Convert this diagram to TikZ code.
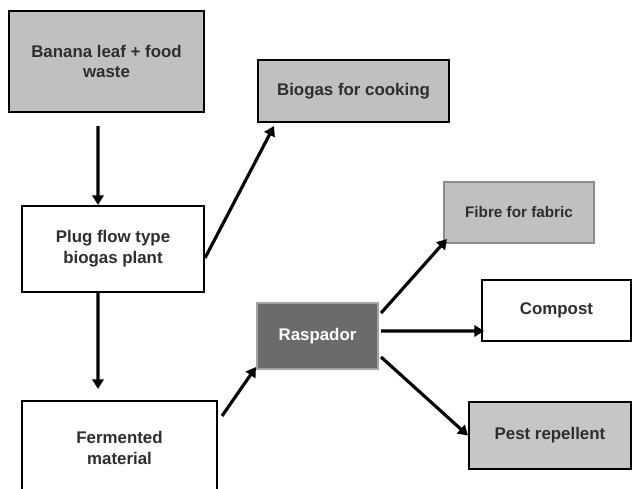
\documentclass[tikz,border=0pt]{standalone}
\usepackage{fontspec}
\setmainfont{Liberation Sans}
\usetikzlibrary{arrows.meta}

\definecolor{boxgrey}{HTML}{C0C0C0}
\definecolor{pestgrey}{HTML}{C6C6C6}
\definecolor{rimgrey}{HTML}{8C8C8C}
\definecolor{darkfill}{HTML}{6B6B6B}
\definecolor{inkgrey}{HTML}{2E2E2E}

\tikzset{
  box/.style={draw=black, line width=1.2pt, fill=white, align=center,
    text=inkgrey, inner sep=0pt, font=\fontsize{9.6}{11.8}\selectfont\bfseries},
  greybox/.style={box, fill=boxgrey},
  flow/.style={line width=1.8pt, -{Triangle[length=5.5pt,width=6.5pt]}}
}

\begin{document}
\begin{tikzpicture}[x=0.02cm, y=-0.02cm]
\useasboundingbox (0,0) rectangle (632,488);
% left column
\node[greybox, minimum width=3.9cm, minimum height=2.02cm] (banana) at (106.5,61.5) {Banana leaf + food\\waste};
\node[box, minimum width=3.64cm, minimum height=1.72cm] (plug) at (113,249) {Plug flow type\\biogas plant};
\node[box, minimum width=3.9cm, minimum height=1.88cm] (ferm) at (119.5,448) {Fermented\\material};
% outputs
\node[greybox, minimum width=3.82cm, minimum height=1.24cm] (biogas) at (353.5,91) {Biogas for cooking};
\node[box, fill=darkfill, draw=rimgrey!80, text=white, minimum width=2.42cm, minimum height=1.32cm] (rasp) at (317.5,336) {Raspador};
\node[greybox, draw=rimgrey, font=\fontsize{8.7}{10.5}\selectfont\bfseries, minimum width=3cm, minimum height=1.22cm] (fibre) at (519,212.5) {Fibre for fabric};
\node[box, minimum width=2.98cm, minimum height=1.22cm] (compost) at (556.5,310.5) {Compost};
\node[box, fill=pestgrey, minimum width=3.24cm, minimum height=1.34cm] (pest) at (550,435.5) {Pest repellent};

\draw[flow] ([xshift=-0.17cm,yshift=-0.26cm]banana.south) -- ([xshift=-0.3cm]plug.north);
\draw[flow] ([yshift=-0.18cm]plug.east) -- ([xshift=0.34cm,yshift=-0.06cm]biogas.south west);
\draw[flow] ([xshift=-0.3cm]plug.south) -- ([xshift=-0.43cm,yshift=0.22cm]ferm.north);
\draw[flow] ([xshift=0.08cm,yshift=-0.32cm]ferm.north east) -- ([yshift=0.06cm]rasp.south west);
\draw[flow] ([xshift=0.04cm,yshift=0.46cm]rasp.east) -- ([xshift=0.08cm,yshift=0.1cm]fibre.south west);
\draw[flow] ([xshift=0.04cm,yshift=0.1cm]rasp.east) -- ([xshift=0.06cm,yshift=-0.41cm]compost.west);
\draw[flow] ([xshift=0.04cm,yshift=-0.42cm]rasp.east) -- (pest.west);
\end{tikzpicture}
\end{document}
